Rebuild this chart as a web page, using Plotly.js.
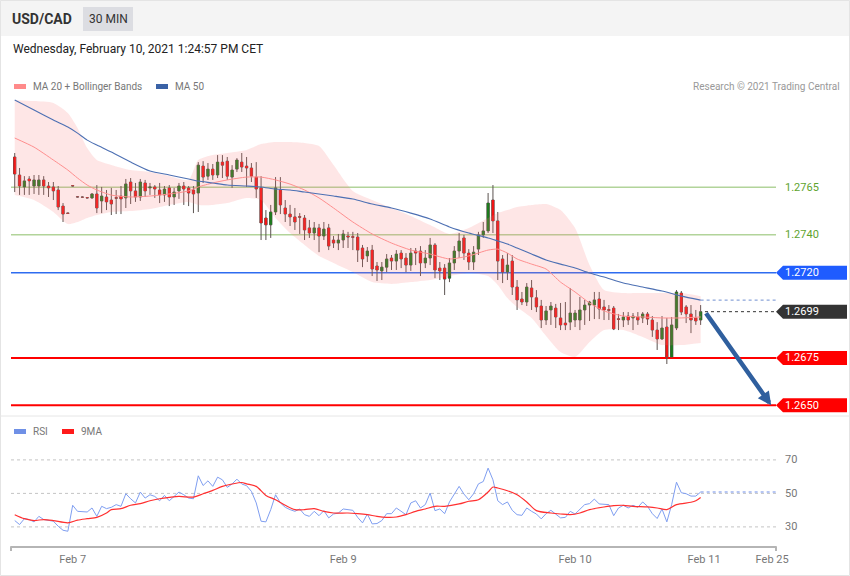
<!DOCTYPE html>
<html><head><meta charset="utf-8">
<script src="https://cdn.plot.ly/plotly-3.0.1.min.js"></script>
<style>html,body{margin:0;padding:0;background:#fff;overflow:hidden}#chart{width:850px;height:576px}</style>
</head><body><div id="chart"></div>
<script>
// ---------- DATA ----------
const opens = [1.27810,1.27715,1.27652,1.27694,1.27657,1.27657,1.27689,1.27657,1.27652,1.27636,
1.27551,1.27515,1.27659,1.27600,1.27599,1.27596,1.27594,1.27615,1.27578,1.27599,
1.27583,1.27596,1.27604,1.27594,1.27678,1.27631,1.27599,1.27673,1.27647,1.27652,
1.27636,1.27610,1.27647,1.27599,1.27631,1.27657,1.27647,1.27636,1.27620,1.27762,
1.27709,1.27746,1.27715,1.27783,1.27788,1.27704,1.27746,1.27783,1.27762,1.27752,
1.27704,1.27647,1.27488,1.27452,1.27520,1.27636,1.27541,1.27509,1.27494,1.27496,
1.27488,1.27436,1.27409,1.27436,1.27393,1.27436,1.27372,1.27356,1.27372,1.27393,
1.27390,1.27388,1.27330,1.27288,1.27319,1.27235,1.27209,1.27229,1.27277,1.27261,
1.27303,1.27277,1.27240,1.27314,1.27314,1.27251,1.27277,1.27346,1.27224,1.27224,
1.27171,1.27251,1.27314,1.27383,1.27303,1.27256,1.27324,1.27399,1.27420,1.27583,
1.27473,1.27272,1.27203,1.27261,1.27124,1.27061,1.27045,1.27119,1.27067,1.27024,
1.26950,1.27003,1.27013,1.26961,1.26934,1.26939,1.26950,1.26950,1.27003,1.27029,
1.27029,1.27061,1.27019,1.27005,1.27013,1.26957,1.26950,1.26971,1.26961,1.26966,
1.26961,1.26982,1.26950,1.26897,1.26850,1.26913,1.26755,1.26908,1.27092,1.27019,
1.26982,1.26961,1.26950];
const highs = [1.27831,1.27752,1.27709,1.27709,1.27715,1.27715,1.27709,1.27678,1.27678,1.27657,
1.27567,1.27518,1.27660,1.27602,1.27602,1.27598,1.27620,1.27662,1.27652,1.27636,
1.27647,1.27636,1.27657,1.27694,1.27699,1.27673,1.27694,1.27689,1.27673,1.27662,
1.27673,1.27657,1.27662,1.27647,1.27673,1.27678,1.27657,1.27657,1.27783,1.27788,
1.27778,1.27773,1.27820,1.27820,1.27810,1.27767,1.27804,1.27831,1.27810,1.27778,
1.27783,1.27709,1.27530,1.27557,1.27704,1.27704,1.27583,1.27557,1.27541,1.27514,
1.27504,1.27478,1.27467,1.27457,1.27467,1.27457,1.27393,1.27404,1.27425,1.27415,
1.27415,1.27409,1.27346,1.27335,1.27346,1.27256,1.27256,1.27298,1.27293,1.27319,
1.27319,1.27303,1.27330,1.27330,1.27340,1.27319,1.27383,1.27356,1.27256,1.27245,
1.27277,1.27340,1.27409,1.27399,1.27324,1.27340,1.27415,1.27467,1.27620,1.27662,
1.27520,1.27293,1.27303,1.27293,1.27161,1.27098,1.27145,1.27161,1.27108,1.27056,
1.27024,1.27045,1.27035,1.27040,1.27045,1.27119,1.27003,1.27072,1.27056,1.27051,
1.27098,1.27098,1.27056,1.27029,1.27024,1.26982,1.26992,1.26992,1.26987,1.26992,
1.26992,1.26992,1.26971,1.26939,1.26971,1.26961,1.26966,1.27108,1.27103,1.27029,
1.27029,1.27003,1.27029];
const lows = [1.27625,1.27610,1.27610,1.27610,1.27615,1.27610,1.27610,1.27599,1.27583,1.27530,
1.27467,1.27510,1.27655,1.27597,1.27596,1.27592,1.27589,1.27514,1.27514,1.27530,
1.27504,1.27509,1.27509,1.27541,1.27562,1.27573,1.27578,1.27599,1.27610,1.27594,
1.27567,1.27573,1.27551,1.27557,1.27589,1.27557,1.27551,1.27514,1.27520,1.27673,
1.27689,1.27689,1.27699,1.27699,1.27689,1.27647,1.27731,1.27731,1.27652,1.27678,
1.27594,1.27372,1.27372,1.27383,1.27504,1.27509,1.27467,1.27446,1.27425,1.27404,
1.27372,1.27383,1.27372,1.27308,1.27372,1.27319,1.27330,1.27319,1.27330,1.27330,
1.27319,1.27256,1.27229,1.27256,1.27182,1.27156,1.27161,1.27203,1.27214,1.27214,
1.27224,1.27203,1.27209,1.27240,1.27182,1.27224,1.27240,1.27171,1.27161,1.27082,
1.27150,1.27214,1.27277,1.27267,1.27214,1.27214,1.27293,1.27383,1.27409,1.27409,
1.27161,1.27145,1.27161,1.27082,1.27003,1.27029,1.27024,1.27003,1.26992,1.26908,
1.26924,1.26924,1.26908,1.26897,1.26897,1.26897,1.26913,1.26897,1.26924,1.26945,
1.26955,1.26955,1.26950,1.26950,1.26897,1.26897,1.26913,1.26924,1.26897,1.26924,
1.26934,1.26924,1.26861,1.26792,1.26845,1.26718,1.26755,1.26897,1.26976,1.26934,
1.26881,1.26924,1.26924];
const closes = [1.27720,1.27657,1.27684,1.27684,1.27689,1.27689,1.27657,1.27647,1.27631,1.27546,
1.27509,1.27512,1.27657,1.27599,1.27598,1.27594,1.27615,1.27541,1.27604,1.27573,
1.27562,1.27592,1.27589,1.27668,1.27631,1.27599,1.27678,1.27631,1.27652,1.27641,
1.27610,1.27641,1.27599,1.27625,1.27657,1.27641,1.27620,1.27615,1.27767,1.27704,
1.27746,1.27715,1.27783,1.27767,1.27709,1.27741,1.27794,1.27757,1.27752,1.27709,
1.27641,1.27462,1.27452,1.27520,1.27647,1.27557,1.27509,1.27494,1.27467,1.27492,
1.27425,1.27409,1.27436,1.27393,1.27430,1.27340,1.27356,1.27372,1.27404,1.27388,
1.27386,1.27319,1.27272,1.27314,1.27219,1.27214,1.27229,1.27272,1.27261,1.27298,
1.27272,1.27240,1.27303,1.27303,1.27251,1.27277,1.27346,1.27214,1.27209,1.27166,
1.27251,1.27314,1.27367,1.27303,1.27256,1.27308,1.27399,1.27420,1.27567,1.27473,
1.27261,1.27203,1.27240,1.27124,1.27056,1.27045,1.27124,1.27072,1.27019,1.26950,
1.26998,1.27024,1.26966,1.26924,1.26924,1.26987,1.26987,1.27003,1.27029,1.27045,
1.27056,1.27008,1.27003,1.27001,1.26903,1.26953,1.26966,1.26950,1.26971,1.26950,
1.26982,1.26955,1.26897,1.26850,1.26908,1.26755,1.26924,1.27098,1.26992,1.26982,
1.26950,1.26945,1.26994];

// Bollinger / moving averages, read at these candle indices
const bandIdx = [0,4,8,11,13,15,17,20,24,28,32,36,38,41,44,48,51,54,57,60,63,66,70,74,78,82,86,90,94,98,100,102,104,107,110,113,116,119,122,126,130,134,138,142];
const bbUpper = [1.28111,1.28105,1.28095,1.28042,1.27963,1.27857,1.27794,1.27768,1.27741,1.27731,
1.27710,1.27689,1.27794,1.27820,1.27831,1.27847,1.27878,1.27889,1.27889,1.27884,
1.27868,1.27768,1.27631,1.27583,1.27541,1.27499,1.27451,1.27404,1.27435,1.27488,
1.27514,1.27530,1.27546,1.27557,1.27562,1.27530,1.27435,1.27240,1.27108,1.27092,
1.27092,1.27092,1.27092,1.27076];
const bbLower = [1.27609,1.27583,1.27520,1.27456,1.27467,1.27488,1.27504,1.27520,1.27525,1.27536,
1.27557,1.27572,1.27557,1.27557,1.27567,1.27594,1.27583,1.27488,1.27409,1.27346,
1.27288,1.27251,1.27203,1.27150,1.27140,1.27150,1.27161,1.27182,1.27198,1.27182,
1.27135,1.27066,1.27019,1.26961,1.26866,1.26781,1.26755,1.26834,1.26898,1.26898,
1.26861,1.26818,1.26818,1.26829];
const ma20 = [1.27910,1.27862,1.27794,1.27741,1.27699,1.27662,1.27636,1.27609,1.27599,1.27604,
1.27615,1.27631,1.27652,1.27673,1.27689,1.27704,1.27704,1.27689,1.27667,1.27636,
1.27594,1.27541,1.27467,1.27404,1.27356,1.27319,1.27298,1.27272,1.27288,1.27319,
1.27324,1.27303,1.27272,1.27245,1.27219,1.27150,1.27098,1.27040,1.26998,1.26971,
1.26966,1.26961,1.26961,1.26966];
const ma50 = [1.28111,1.28058,1.28005,1.27968,1.27936,1.27899,1.27873,1.27836,1.27783,1.27736,
1.27715,1.27694,1.27683,1.27673,1.27662,1.27657,1.27652,1.27641,1.27636,1.27625,
1.27615,1.27604,1.27588,1.27562,1.27541,1.27514,1.27483,1.27441,1.27409,1.27383,
1.27367,1.27351,1.27330,1.27298,1.27267,1.27245,1.27224,1.27198,1.27177,1.27145,
1.27124,1.27103,1.27076,1.27055];

// RSI (one per candle) and its 9-period MA (read at these indices)
const rsi = [33.8,31.4,34.9,34.4,33.0,36.3,34.4,34.0,33.4,30.4,
28.0,27.4,42.9,39.3,38.9,38.9,41.3,36.3,42.3,40.9,
41.7,43.3,42.3,49.8,46.8,44.3,50.8,47.2,49.2,48.2,
45.6,48.8,45.6,48.2,50.8,49.2,47.2,46.8,60.5,54.7,
57.5,54.2,59.7,58.1,53.6,55.6,58.5,55.6,54.6,51.2,
44.3,33.4,33.0,40.3,49.2,44.3,41.7,40.3,39.3,40.7,
37.3,36.3,39.3,36.7,39.7,35.4,37.7,38.3,40.7,40.3,
39.9,35.7,32.4,37.7,31.8,32.0,33.8,37.9,37.9,41.3,
39.3,37.3,44.3,45.6,41.3,43.3,
50.2,39.7,40.7,37.9,44.9,49.6,54.2,49.6,46.2,49.8,
55.7,57.1,65.1,58.1,45.6,43.3,44.9,39.9,37.3,36.9,
41.3,39.3,37.7,34.8,37.9,39.9,37.7,35.4,35.7,39.3,
37.7,40.3,43.3,43.9,46.6,43.7,43.3,43.3,36.7,41.3,
42.9,41.3,42.9,41.7,44.9,42.3,37.9,35.0,40.7,33.0,
43.3,56.7,50.4,49.8,48.4,48.4,50.8];
const rsiMaIdx = [0,2,4,6,8,11,13,15,17,19,20,22,24,26,28,30,32,34,37,39,41,43,45,47,48,50,52,54,56,58,60,62,64,66,69,71,73,75,77,79,81,83,85,87,89,92,94,96,98,99,100,102,104,106,108,111,113,115,117,119,122,124,126,128,131,133,135,137,140,141,142];
const rsiMa = [37.3,34.9,33.8,34.4,33.8,32.4,34.0,34.9,35.7,38.3,
40.3,40.9,42.9,43.9,45.6,46.8,47.6,48.2,47.8,49.8,
51.8,54.2,55.6,56.5,55.7,54.2,48.8,46.2,42.9,40.3,
40.3,40.9,39.3,38.3,38.3,37.9,37.3,36.3,35.7,35.9,
37.3,39.3,40.7,42.3,42.3,43.7,45.3,46.2,50.8,53.8,
53.2,51.6,49.2,44.9,39.7,38.3,37.7,37.3,38.3,40.3,
41.9,42.7,42.9,42.3,41.9,41.3,40.3,43.3,44.7,45.6,47.6];

// Key levels
const supportLevels = [1.2675, 1.2650];
const resistLevels = [1.2765, 1.2740];
const pivotLevel = 1.2720;
const targetLevel = 1.2650;
const rsiLevels = [70, 50, 30];
const tickVals = [12, 68, 116, 142.7, 156.8];
const tickText = ['Feb 7', 'Feb 9', 'Feb 10', 'Feb 11', 'Feb 25'];

// ---------- LAYOUT HELPERS ----------
const W = 850, H = 576, ML = 11, MR = 74;
const PW = W - ML - MR;
const px = x => (x - ML) / PW;
const py = y => 1 - y / H;
const FONT = 'Roboto, "Liberation Sans", Arial, sans-serif';
const N = closes.length;
const idx = closes.map((_, i) => i);
const xRange = [-0.77, 157.6];
const yRange = [1.26449, 1.28137];
const mainDom = [py(415), py(95)];
const rsiDom = [py(546.2), py(440)];
const rsiRange = [18.48, 81.88];
const tagH = 7 * (yRange[1] - yRange[0]) / 320;

const bodyHi = idx.map(i => Math.max(opens[i], closes[i]));
const bodyLo = idx.map(i => Math.min(opens[i], closes[i]));

const traces = [
  {x: bandIdx, y: bbUpper, type: 'scatter', mode: 'lines', line: {width: 0, shape: 'spline', smoothing: 0.6}, hoverinfo: 'skip'},
  {x: bandIdx, y: bbLower, type: 'scatter', mode: 'lines', fill: 'tonexty', fillcolor: 'rgba(250,120,120,0.19)', line: {width: 0, shape: 'spline', smoothing: 0.6}, hoverinfo: 'skip'},
  {x: bandIdx, y: ma20, type: 'scatter', mode: 'lines', line: {color: '#ff8e8e', width: 1, shape: 'spline', smoothing: 0.6}},
  {x: bandIdx, y: ma50, type: 'scatter', mode: 'lines', line: {color: '#4d70b3', width: 1.1, shape: 'spline', smoothing: 0.6}},
  {x: idx, open: opens, high: highs, low: lows, close: closes, type: 'candlestick',
   increasing: {line: {color: '#5b5350', width: 1}, fillcolor: '#5b5350'},
   decreasing: {line: {color: '#5b5350', width: 1}, fillcolor: '#5b5350'}, whiskerwidth: 0},
  {x: idx, open: opens, high: bodyHi, low: bodyLo, close: closes, type: 'candlestick',
   increasing: {line: {color: '#1d7a1d', width: 0}, fillcolor: '#1d7a1d'},
   decreasing: {line: {color: '#f01414', width: 0}, fillcolor: '#f01414'}, whiskerwidth: 0},
  {x: idx, y: rsi, xaxis: 'x', yaxis: 'y2', type: 'scatter', mode: 'lines', line: {color: '#7f9ef0', width: 1}},
  {x: rsiMaIdx, y: rsiMa, xaxis: 'x', yaxis: 'y2', type: 'scatter', mode: 'lines', line: {color: '#ff3030', width: 1.2, shape: 'spline', smoothing: 0.8}}
];

const shapes = [];
const annotations = [];
// header
shapes.push({type: 'rect', xref: 'paper', yref: 'paper', x0: px(0), x1: px(850), y0: py(36), y1: py(0), fillcolor: '#f4f4f4', line: {width: 0}, layer: 'below'});
shapes.push({type: 'rect', xref: 'paper', yref: 'paper', x0: px(83), x1: px(133), y0: py(31), y1: py(7), fillcolor: '#dcdde2', line: {width: 0}, layer: 'below'});
shapes.push({type: 'rect', xref: 'paper', yref: 'paper', x0: px(0.5), x1: px(849.5), y0: py(575.5), y1: py(0.5), line: {color: '#e4e4e4', width: 1}});
shapes.push({type: 'line', xref: 'paper', yref: 'paper', x0: px(0), x1: px(850), y0: py(416), y1: py(416), line: {color: '#e6e6e6', width: 1}});
// legend swatches
const sw = (x, y, c) => shapes.push({type: 'rect', xref: 'paper', yref: 'paper', x0: px(x), x1: px(x + 12), y0: py(y + 2.5), y1: py(y - 2.5), fillcolor: c, line: {width: 0}});
sw(14, 86.5, '#ff8a8a'); sw(156, 86.5, '#3a62a6');
sw(14, 431.5, '#6f90e6'); sw(62, 431.5, '#ff1a1a');

annotations.push({text: '<b>USD/CAD</b>', xref: 'paper', yref: 'paper', x: px(10), y: py(19), xanchor: 'left', yanchor: 'middle', showarrow: false, font: {family: FONT, size: 14, color: '#333'}});
annotations.push({text: '30 MIN', xref: 'paper', yref: 'paper', x: px(108), y: py(19), xanchor: 'center', yanchor: 'middle', showarrow: false, font: {family: FONT, size: 12, color: '#333'}});
annotations.push({text: 'Wednesday, February 10, 2021 1:24:57 PM CET', xref: 'paper', yref: 'paper', x: px(11), y: py(49), xanchor: 'left', yanchor: 'middle', showarrow: false, font: {family: FONT, size: 12, color: '#222'}});
const legTxt = (t, x, y) => annotations.push({text: t, xref: 'paper', yref: 'paper', x: px(x), y: py(y), xanchor: 'left', yanchor: 'middle', showarrow: false, font: {family: FONT, size: 10, color: '#777'}});
legTxt('MA 20 + Bollinger Bands', 31, 86.5); legTxt('MA 50', 173, 86.5);
legTxt('RSI', 31, 431.5); legTxt('9MA', 79, 431.5);
annotations.push({text: 'Research © 2021 Trading Central', xref: 'paper', yref: 'paper', x: px(842), y: py(86.5), xanchor: 'right', yanchor: 'middle', showarrow: false, font: {family: FONT, size: 10, color: '#999'}});

// levels
const lineAt = (v, color, width) => shapes.push({type: 'line', xref: 'paper', yref: 'y', x0: 0, x1: 1, y0: v, y1: v, line: {color: color, width: width}, layer: 'below'});
const tag = (v, color) => {
  shapes.push({type: 'path', xref: 'paper', yref: 'y', fillcolor: color, line: {width: 0},
    path: `M 1,${v} L ${px(783)},${v + tagH} L ${px(847)},${v + tagH} L ${px(847)},${v - tagH} L ${px(783)},${v - tagH} Z`});
};
const label = (v, t, color) => annotations.push({text: t, xref: 'paper', yref: 'y', x: px(783), y: v, xanchor: 'left', yanchor: 'middle', showarrow: false, font: {family: FONT, size: 11, color: color}});
resistLevels.forEach(v => { lineAt(v, '#b2d49a', 1.5); label(v, v.toFixed(4), '#5ea32e'); });
lineAt(pivotLevel, '#2e6cf0', 1.5); tag(pivotLevel, '#1f5cff'); label(pivotLevel, pivotLevel.toFixed(4), '#fff');
supportLevels.forEach(v => { lineAt(v, '#ff0000', 2); tag(v, '#ff0000'); label(v, v.toFixed(4), '#fff'); });
const last = closes[N - 1];
const lastMa50 = ma50[ma50.length - 1];
const xLast = bandIdx[bandIdx.length - 1];
shapes.push({type: 'line', xref: 'x', yref: 'y', x0: xLast, x1: xRange[1], y0: lastMa50, y1: lastMa50, line: {color: '#6f8fd0', width: 1, dash: 'dot'}});
shapes.push({type: 'line', xref: 'x', yref: 'y', x0: N - 1 + 0.9, x1: xRange[1], y0: last, y1: last, line: {color: '#333', width: 1, dash: 'dot'}});
tag(last, '#333333'); label(last, last.toFixed(4), '#fff');
// arrow
annotations.push({x: 156.6, y: targetLevel, xref: 'x', yref: 'y', ax: N - 1 + 0.9, ay: last, axref: 'x', ayref: 'y', text: '', showarrow: true, arrowhead: 2, arrowsize: 0.6, arrowwidth: 4.5, arrowcolor: '#2f5f9e'});

// RSI grid
rsiLevels.forEach(v => {
  shapes.push({type: 'line', xref: 'paper', yref: 'y2', x0: 0, x1: 1, y0: v, y1: v, line: {color: '#c4c4c4', width: 1, dash: 'dot'}, layer: 'below'});
  annotations.push({text: String(v), xref: 'paper', yref: 'y2', x: px(783), y: v, xanchor: 'left', yanchor: 'middle', showarrow: false, font: {family: FONT, size: 11, color: '#777'}});
});
const lastRsi = rsi[N - 1];
shapes.push({type: 'line', xref: 'x', yref: 'y2', x0: N - 1, x1: xRange[1], y0: lastRsi, y1: lastRsi, line: {color: '#9fb4f0', width: 1.5, dash: 'dot'}});
// axis end ticks
[11, 776].forEach(x => shapes.push({type: 'line', xref: 'paper', yref: 'paper', x0: px(x), x1: px(x), y0: py(546.2), y1: py(551), line: {color: '#b5b5b5', width: 2}}));

const layout = {
  width: W, height: H, margin: {l: ML, r: MR, t: 0, b: 0, pad: 0},
  paper_bgcolor: '#fff', plot_bgcolor: 'rgba(0,0,0,0)', showlegend: false,
  font: {family: FONT},
  xaxis: {range: xRange, domain: [0, 1], anchor: 'y2', showgrid: false, zeroline: false,
    showline: true, linecolor: '#b5b5b5', linewidth: 2, ticks: '', tickvals: tickVals, ticktext: tickText,
    tickfont: {family: FONT, size: 11, color: '#777'}, ticklabelstandoff: 2, rangeslider: {visible: false}, fixedrange: true},
  yaxis: {domain: mainDom, range: yRange, showgrid: false, zeroline: false, showticklabels: false, fixedrange: true},
  yaxis2: {domain: rsiDom, range: rsiRange, showgrid: false, zeroline: false, showticklabels: false, fixedrange: true},
  shapes: shapes, annotations: annotations
};
Plotly.newPlot('chart', traces, layout, {displayModeBar: false, staticPlot: true});
</script>
</body></html>
